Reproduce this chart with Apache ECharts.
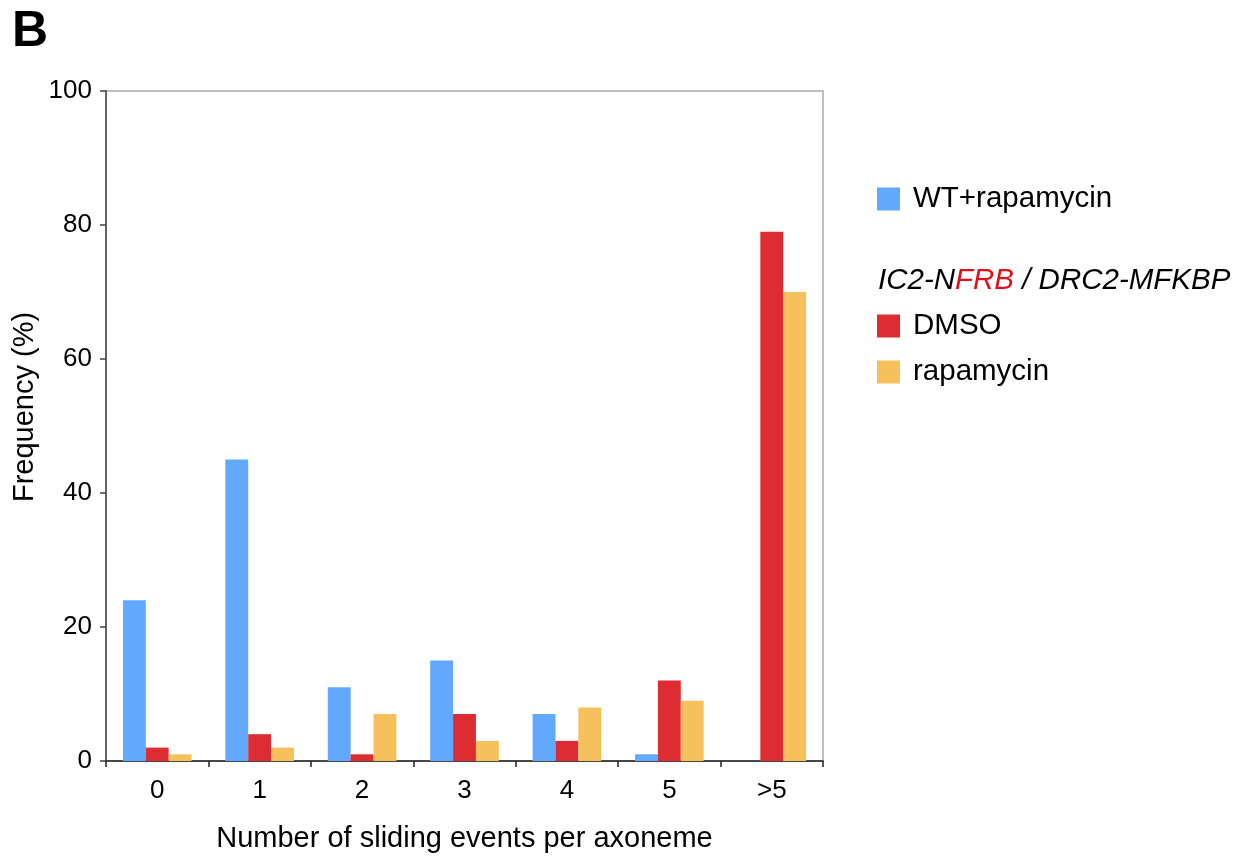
<!DOCTYPE html>
<html>
<head>
<meta charset="utf-8">
<script src="https://cdn.jsdelivr.net/npm/echarts@6/dist/echarts.min.js"></script>
<style>
  html, body { margin: 0; padding: 0; background: #fff; }
  #main { width: 1241px; height: 858px; }
</style>
</head>
<body>
<div id="main"></div>
<script>
// data
const categories = ['0', '1', '2', '3', '4', '5', '>5'];
const wtRapamycin = [24, 45, 11, 15, 7, 1, 0];
const dmso = [2, 4, 1, 7, 3, 12, 79];
const rapamycin = [1, 2, 7, 3, 8, 9, 70];

const font = '"Liberation Sans", Arial, Helvetica, sans-serif';
const myChart = echarts.init(document.getElementById('main'));

function legendBox(names, top) {
    return {
        data: names,
        left: 877, top: top,
        padding: 0,
        orient: 'vertical',
        itemWidth: 23, itemHeight: 23, itemGap: 16,
        icon: 'rect',
        textStyle: {fontSize: 29.5, color: '#000', fontFamily: font, padding: [0, 0, 0, 8]}
    };
}

let option = {
    backgroundColor: '#fff',
    textStyle: {fontFamily: font},
    animation: false,
    grid: {
        left: 106, top: 91, width: 717, height: 671,
        show: true, borderColor: '#aaa', borderWidth: 1.5
    },
    legend: [
        legendBox(['WT+rapamycin'], 184),
        legendBox(['DMSO', 'rapamycin'], 311)
    ],
    graphic: [
        {
            type: 'text', x: 12, y: 32,
            style: {text: 'B', font: 'bold 50px ' + font, fill: '#000', verticalAlign: 'middle'}
        },
        {
            type: 'text', x: 25, y: 407, rotation: Math.PI / 2,
            style: {
                text: 'Frequency (%)', font: '29px ' + font, fill: '#000',
                align: 'center', verticalAlign: 'middle'
            }
        },
        {
            type: 'text', x: 878, y: 281,
            style: {
                text: '{a|IC2-N}{r|FRB}{a| / DRC2-MFKBP}',
                verticalAlign: 'middle',
                rich: {
                    a: {fontSize: 29.5, fontStyle: 'italic', fontFamily: font, fill: '#000', color: '#000'},
                    r: {fontSize: 29.5, fontStyle: 'italic', fontFamily: font, fill: '#e0101a', color: '#e0101a'}
                }
            }
        }
    ],
    xAxis: {
        type: 'category',
        data: categories,
        name: 'Number of sliding events per axoneme',
        nameLocation: 'middle',
        nameGap: 63,
        nameTextStyle: {fontSize: 29, color: '#000', fontFamily: font},
        axisLine: {lineStyle: {color: '#222', width: 1.5}},
        axisTick: {show: true, length: 6, lineStyle: {color: '#222', width: 1.5}},
        axisLabel: {fontSize: 26, color: '#000', margin: 17, fontFamily: font}
    },
    yAxis: {
        type: 'value',
        min: 0, max: 100, interval: 20,
        axisLine: {show: true, lineStyle: {color: '#444', width: 1.5}},
        axisTick: {show: true, length: 6, lineStyle: {color: '#444', width: 1.5}},
        axisLabel: {fontSize: 26, color: '#000', margin: 14, fontFamily: font},
        splitLine: {show: false}
    },
    series: [
        {
            name: 'WT+rapamycin', type: 'bar', data: wtRapamycin,
            itemStyle: {color: '#62a8fd'},
            barGap: '0%', barCategoryGap: '33%'
        },
        {
            name: 'DMSO', type: 'bar', data: dmso,
            itemStyle: {color: '#dd2d33'},
            barGap: '0%', barCategoryGap: '33%'
        },
        {
            name: 'rapamycin', type: 'bar', data: rapamycin,
            itemStyle: {color: '#f6c05c'},
            barGap: '0%', barCategoryGap: '33%'
        }
    ]
};

myChart.setOption(option);
</script>
</body>
</html>
